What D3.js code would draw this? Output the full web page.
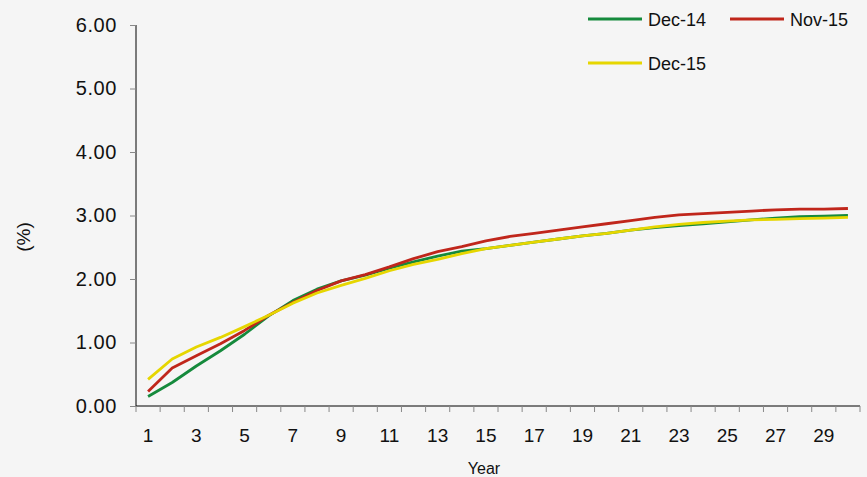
<!DOCTYPE html>
<html><head><meta charset="utf-8">
<script src="https://cdn.jsdelivr.net/npm/d3@7/dist/d3.min.js"></script>
<style>
html,body{margin:0;padding:0;background:#f5f5f5;}
svg{display:block;font-family:"Liberation Sans",Arial,sans-serif;}
</style></head><body>
<svg id="c" width="867" height="477"></svg>
<script>
const years = d3.range(1, 31);
const yTicks = [0, 1, 2, 3, 4, 5, 6];
const xLabels = [1,3,5,7,9,11,13,15,17,19,21,23,25,27,29];
const seriesNames = ["Dec-14", "Nov-15", "Dec-15"];
const dec14 = [0.15,0.37,0.63,0.87,1.13,1.42,1.66,1.84,1.97,2.06,2.17,2.27,2.36,2.44,2.48,2.53,2.58,2.63,2.68,2.72,2.77,2.81,2.84,2.87,2.90,2.93,2.96,2.98,2.99,3.00];
const nov15 = [0.23,0.60,0.79,0.98,1.19,1.43,1.63,1.82,1.97,2.07,2.19,2.32,2.43,2.51,2.60,2.67,2.72,2.77,2.82,2.87,2.92,2.97,3.01,3.03,3.05,3.07,3.09,3.10,3.10,3.11];
const dec15 = [0.42,0.74,0.93,1.08,1.25,1.43,1.62,1.78,1.90,2.01,2.13,2.23,2.31,2.40,2.48,2.53,2.58,2.63,2.68,2.72,2.77,2.82,2.86,2.89,2.91,2.93,2.94,2.95,2.96,2.97];
const colors = ["#158a3c", "#c0261b", "#e6d600"];
const seriesVals = [dec14, nov15, dec15];

const svg = d3.select("#c");
const x = d3.scaleBand().domain(years).range([136, 860]).padding(0);
const y = d3.scaleLinear().domain([0, 6]).range([406, 25]);
const cx = d => x(d) + x.bandwidth() / 2;

// Y axis
const ya = svg.append("g").attr("transform", "translate(136,0)")
  .call(d3.axisLeft(y).tickValues(yTicks).tickFormat(d3.format(".2f")).tickSize(6).tickPadding(13));
ya.select(".domain").attr("stroke", "#000").attr("d", `M0,${y(6)}V${y(0)}`);
ya.selectAll(".tick line").attr("stroke", "#888");
ya.selectAll(".tick text").attr("font-size", 20).attr("letter-spacing", 0.6).attr("fill", "#111").attr("font-family", "Liberation Sans, Arial");

// X axis: tick marks at band boundaries
const xa = svg.append("g").attr("transform", "translate(0,406)");
xa.append("line").attr("x1", 136).attr("x2", 860).attr("stroke", "#000");
const bounds = years.map(d => x(d)).concat([x.range()[1]]);
xa.selectAll(".tk").data(bounds).join("line").attr("class", "tk")
  .attr("x1", d => d).attr("x2", d => d).attr("y1", 0).attr("y2", 6).attr("stroke", "#888");
xa.selectAll(".lb").data(xLabels).join("text").attr("class", "lb")
  .attr("x", d => cx(d)).attr("y", 36).attr("text-anchor", "middle")
  .attr("font-size", 19).attr("fill", "#111").text(d => d);

// Axis titles
svg.append("text").attr("x", 484).attr("y", 474).attr("text-anchor", "middle")
  .attr("font-size", 16).attr("fill", "#111").text("Year");
svg.append("text").attr("transform", "translate(30,237) rotate(-90)").attr("text-anchor", "middle")
  .attr("font-size", 19).attr("fill", "#111").text("(%)");

// Lines
const line = d3.line().x((d, i) => cx(years[i])).y(d => y(d));
seriesVals.forEach((vals, i) => {
  svg.append("path").datum(vals).attr("d", line).attr("fill", "none")
    .attr("stroke", colors[i]).attr("stroke-width", 2.8).attr("stroke-linejoin", "round");
});

// Legend
const leg = [
  {x: 588, y: 19, i: 0},
  {x: 730, y: 19, i: 1},
  {x: 588, y: 63, i: 2}
];
leg.forEach(l => {
  svg.append("line").attr("x1", l.x).attr("x2", l.x + 54).attr("y1", l.y).attr("y2", l.y)
    .attr("stroke", colors[l.i]).attr("stroke-width", 3);
  svg.append("text").attr("x", l.x + 60).attr("y", l.y + 7).attr("font-size", 18)
    .attr("fill", "#111").text(seriesNames[l.i]);
});
</script>
</body></html>
